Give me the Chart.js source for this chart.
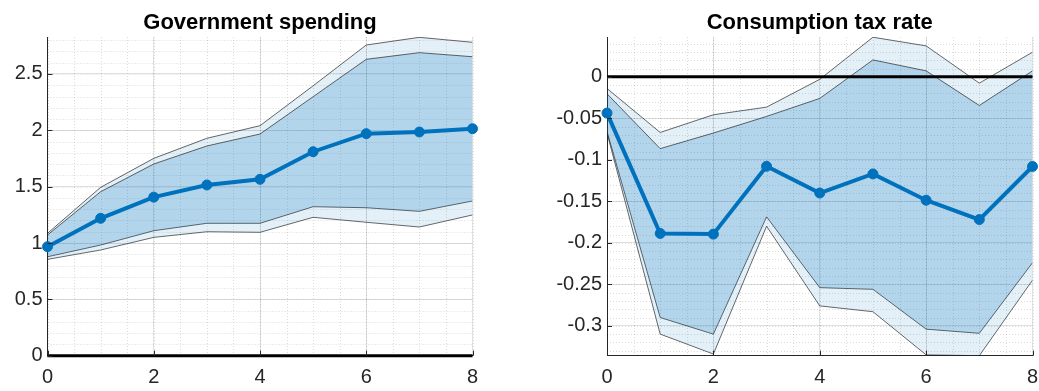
<!DOCTYPE html>
<html>
<head>
<meta charset="utf-8">
<script src="https://cdn.jsdelivr.net/npm/chart.js@4.4.0/dist/chart.umd.min.js"></script>
<style>
  html, body { margin: 0; padding: 0; background: #fff; }
  #wrap { position: relative; width: 1039px; height: 391px; }
  .box { position: absolute; top: 0; height: 391px; }
</style>
</head>
<body>
<div id="wrap">
  <div class="box" style="left:0;width:519px"><canvas id="gov"></canvas></div>
  <div class="box" style="left:519px;width:520px"><canvas id="tax"></canvas></div>
</div>
<script>
// Orizzonte (trimestri)
const steps = [0, 1, 2, 3, 4, 5, 6, 7, 8];

// Government spending
const govMean    = [0.967, 1.219, 1.407, 1.515, 1.565, 1.81, 1.97, 1.985, 2.014];
const govUpper90 = [1.086, 1.494, 1.751, 1.929, 2.041, 2.395, 2.757, 2.825, 2.781];
const govUpper68 = [1.071, 1.455, 1.701, 1.861, 1.967, 2.298, 2.63, 2.689, 2.653];
const govLower68 = [0.878, 0.982, 1.109, 1.175, 1.175, 1.322, 1.313, 1.281, 1.373];
const govLower90 = [0.855, 0.938, 1.05, 1.1, 1.095, 1.228, 1.184, 1.142, 1.249];

// Consumption tax rate
const taxMean    = [-0.0437, -0.1887, -0.1895, -0.1078, -0.14, -0.117, -0.1487, -0.172, -0.108];
const taxUpper90 = [-0.014, -0.067, -0.0457, -0.0365, -0.003, 0.0477, 0.0373, -0.0076, 0.0297];
const taxUpper68 = [-0.0204, -0.0865, -0.0677, -0.0477, -0.026, 0.0204, 0.0072, -0.0345, 0.0072];
const taxLower68 = [-0.0657, -0.29, -0.31, -0.1687, -0.254, -0.256, -0.304, -0.309, -0.224];
const taxLower90 = [-0.0677, -0.31, -0.334, -0.18, -0.276, -0.283, -0.335, -0.336, -0.245];

const zeroLine = [0, 0];
const zeroSteps = [0, 8];

const BLUE = 'rgb(0,114,189)';
const FONT = 'Liberation Sans, Arial, Helvetica, sans-serif';

const pts = (xs, ys) => xs.map((x, i) => ({ x: x, y: ys[i] }));

// Griglia secondaria tratteggiata + tacche interne, come in MATLAB
const minorGrid = {
    id: 'minorGrid',
    beforeDatasetsDraw(chart, args, opts) {
        const { ctx, chartArea: a, scales: { x, y } } = chart;
        ctx.save();
        ctx.strokeStyle = 'rgba(0,0,0,0.14)';
        ctx.lineWidth = 1;
        ctx.setLineDash([1, 2]);
        ctx.beginPath();
        for (let v = x.min; v <= x.max + 1e-9; v += opts.xStep) {
            const px = Math.round(x.getPixelForValue(v)) + 0.5;
            ctx.moveTo(px, a.top); ctx.lineTo(px, a.bottom);
        }
        const n = Math.round((y.max - y.min) / opts.yStep) + 2;
        const start = Math.ceil(y.min / opts.yStep);
        for (let k = start; k < start + n; k++) {
            const v = k * opts.yStep;
            if (v < y.min || v > y.max) continue;
            const py = Math.round(y.getPixelForValue(v)) + 0.5;
            ctx.moveTo(a.left, py); ctx.lineTo(a.right, py);
        }
        ctx.stroke();
        ctx.restore();
    },
    afterDraw(chart) {
        const { ctx, chartArea: a, scales: { x, y } } = chart;
        ctx.save();
        ctx.strokeStyle = '#262626';
        ctx.lineWidth = 1;
        ctx.beginPath();
        y.ticks.forEach(t => {
            const py = Math.round(y.getPixelForValue(t.value)) + 0.5;
            ctx.moveTo(a.left, py); ctx.lineTo(a.left + 5, py);
        });
        x.ticks.forEach(t => {
            const px = Math.round(x.getPixelForValue(t.value)) + 0.5;
            ctx.moveTo(px, a.bottom); ctx.lineTo(px, a.bottom - 5);
        });
        ctx.stroke();
        // titolo centrato sull'area del grafico
        ctx.fillStyle = '#000';
        ctx.font = 'bold 22px ' + FONT;
        ctx.textAlign = 'center';
        ctx.textBaseline = 'alphabetic';
        ctx.fillText(chart.options.plugins.minorGrid.title, (a.left + a.right) / 2, 29);
        ctx.restore();
    }
};

function makeChart(id, c) {
    const datasets = [
        { data: pts(steps, c.mean), borderColor: BLUE, backgroundColor: BLUE, borderWidth: 4,
          pointRadius: 5, pointBorderWidth: 1, fill: false, clip: false },
        { data: pts(zeroSteps, zeroLine), borderColor: '#000', borderWidth: 3, pointRadius: 0,
          fill: false, clip: false },
        { data: pts(steps, c.upper68), borderColor: 'rgba(30,30,30,0.85)', borderWidth: 0.8,
          pointRadius: 0, fill: '+1', backgroundColor: 'rgba(0,114,189,0.21)' },
        { data: pts(steps, c.lower68), borderColor: 'rgba(30,30,30,0.85)', borderWidth: 0.8,
          pointRadius: 0, fill: false },
        { data: pts(steps, c.upper90), borderColor: 'rgba(30,30,30,0.85)', borderWidth: 0.8,
          pointRadius: 0, fill: '+1', backgroundColor: 'rgba(0,114,189,0.11)' },
        { data: pts(steps, c.lower90), borderColor: 'rgba(30,30,30,0.85)', borderWidth: 0.8,
          pointRadius: 0, fill: false }
    ];

    return new Chart(document.getElementById(id), {
        type: 'line',
        data: { datasets: datasets },
        plugins: [minorGrid],
        options: {
            responsive: true,
            maintainAspectRatio: false,
            animation: false,
            layout: { padding: { top: 37, right: c.padRight, left: 0, bottom: 0 } },
            plugins: {
                legend: { display: false },
                tooltip: { enabled: false },
                minorGrid: { title: c.title, xStep: 0.5, yStep: c.yMinor }
            },
            scales: {
                x: {
                    type: 'linear', min: 0, max: 8,
                    afterFit: s => { s.height = 35.3; s.paddingLeft = 0; s.paddingRight = 0; },
                    ticks: { stepSize: 2, padding: 10, color: '#262626',
                             font: { size: 20, family: FONT } },
                    grid: { color: 'rgba(0,0,0,0.12)', drawTicks: false },
                    border: { color: '#262626', width: 1 }
                },
                y: {
                    type: 'linear', min: c.yMin, max: c.yMax,
                    afterFit: s => { s.width = c.axisWidth; s.paddingTop = 0; s.paddingBottom = 0; },
                    ticks: { stepSize: c.yStep, includeBounds: false, padding: 5, color: '#262626',
                             font: { size: 20, family: FONT },
                             callback: v => String(+v.toFixed(4)) },
                    grid: { color: 'rgba(0,0,0,0.12)', drawTicks: false },
                    border: { color: '#262626', width: 1 }
                }
            }
        }
    });
}

makeChart('gov', {
    title: 'Government spending',
    mean: govMean, upper90: govUpper90, upper68: govUpper68, lower68: govLower68, lower90: govLower90,
    yMin: 0, yMax: 2.828, yStep: 0.5, yMinor: 0.1, axisWidth: 47.5, padRight: 46.5
});

makeChart('tax', {
    title: 'Consumption tax rate',
    mean: taxMean, upper90: taxUpper90, upper68: taxUpper68, lower68: taxLower68, lower90: taxLower90,
    yMin: -0.336, yMax: 0.048, yStep: 0.05, yMinor: 0.01, axisWidth: 88, padRight: 6.5
});
</script>
</body>
</html>
